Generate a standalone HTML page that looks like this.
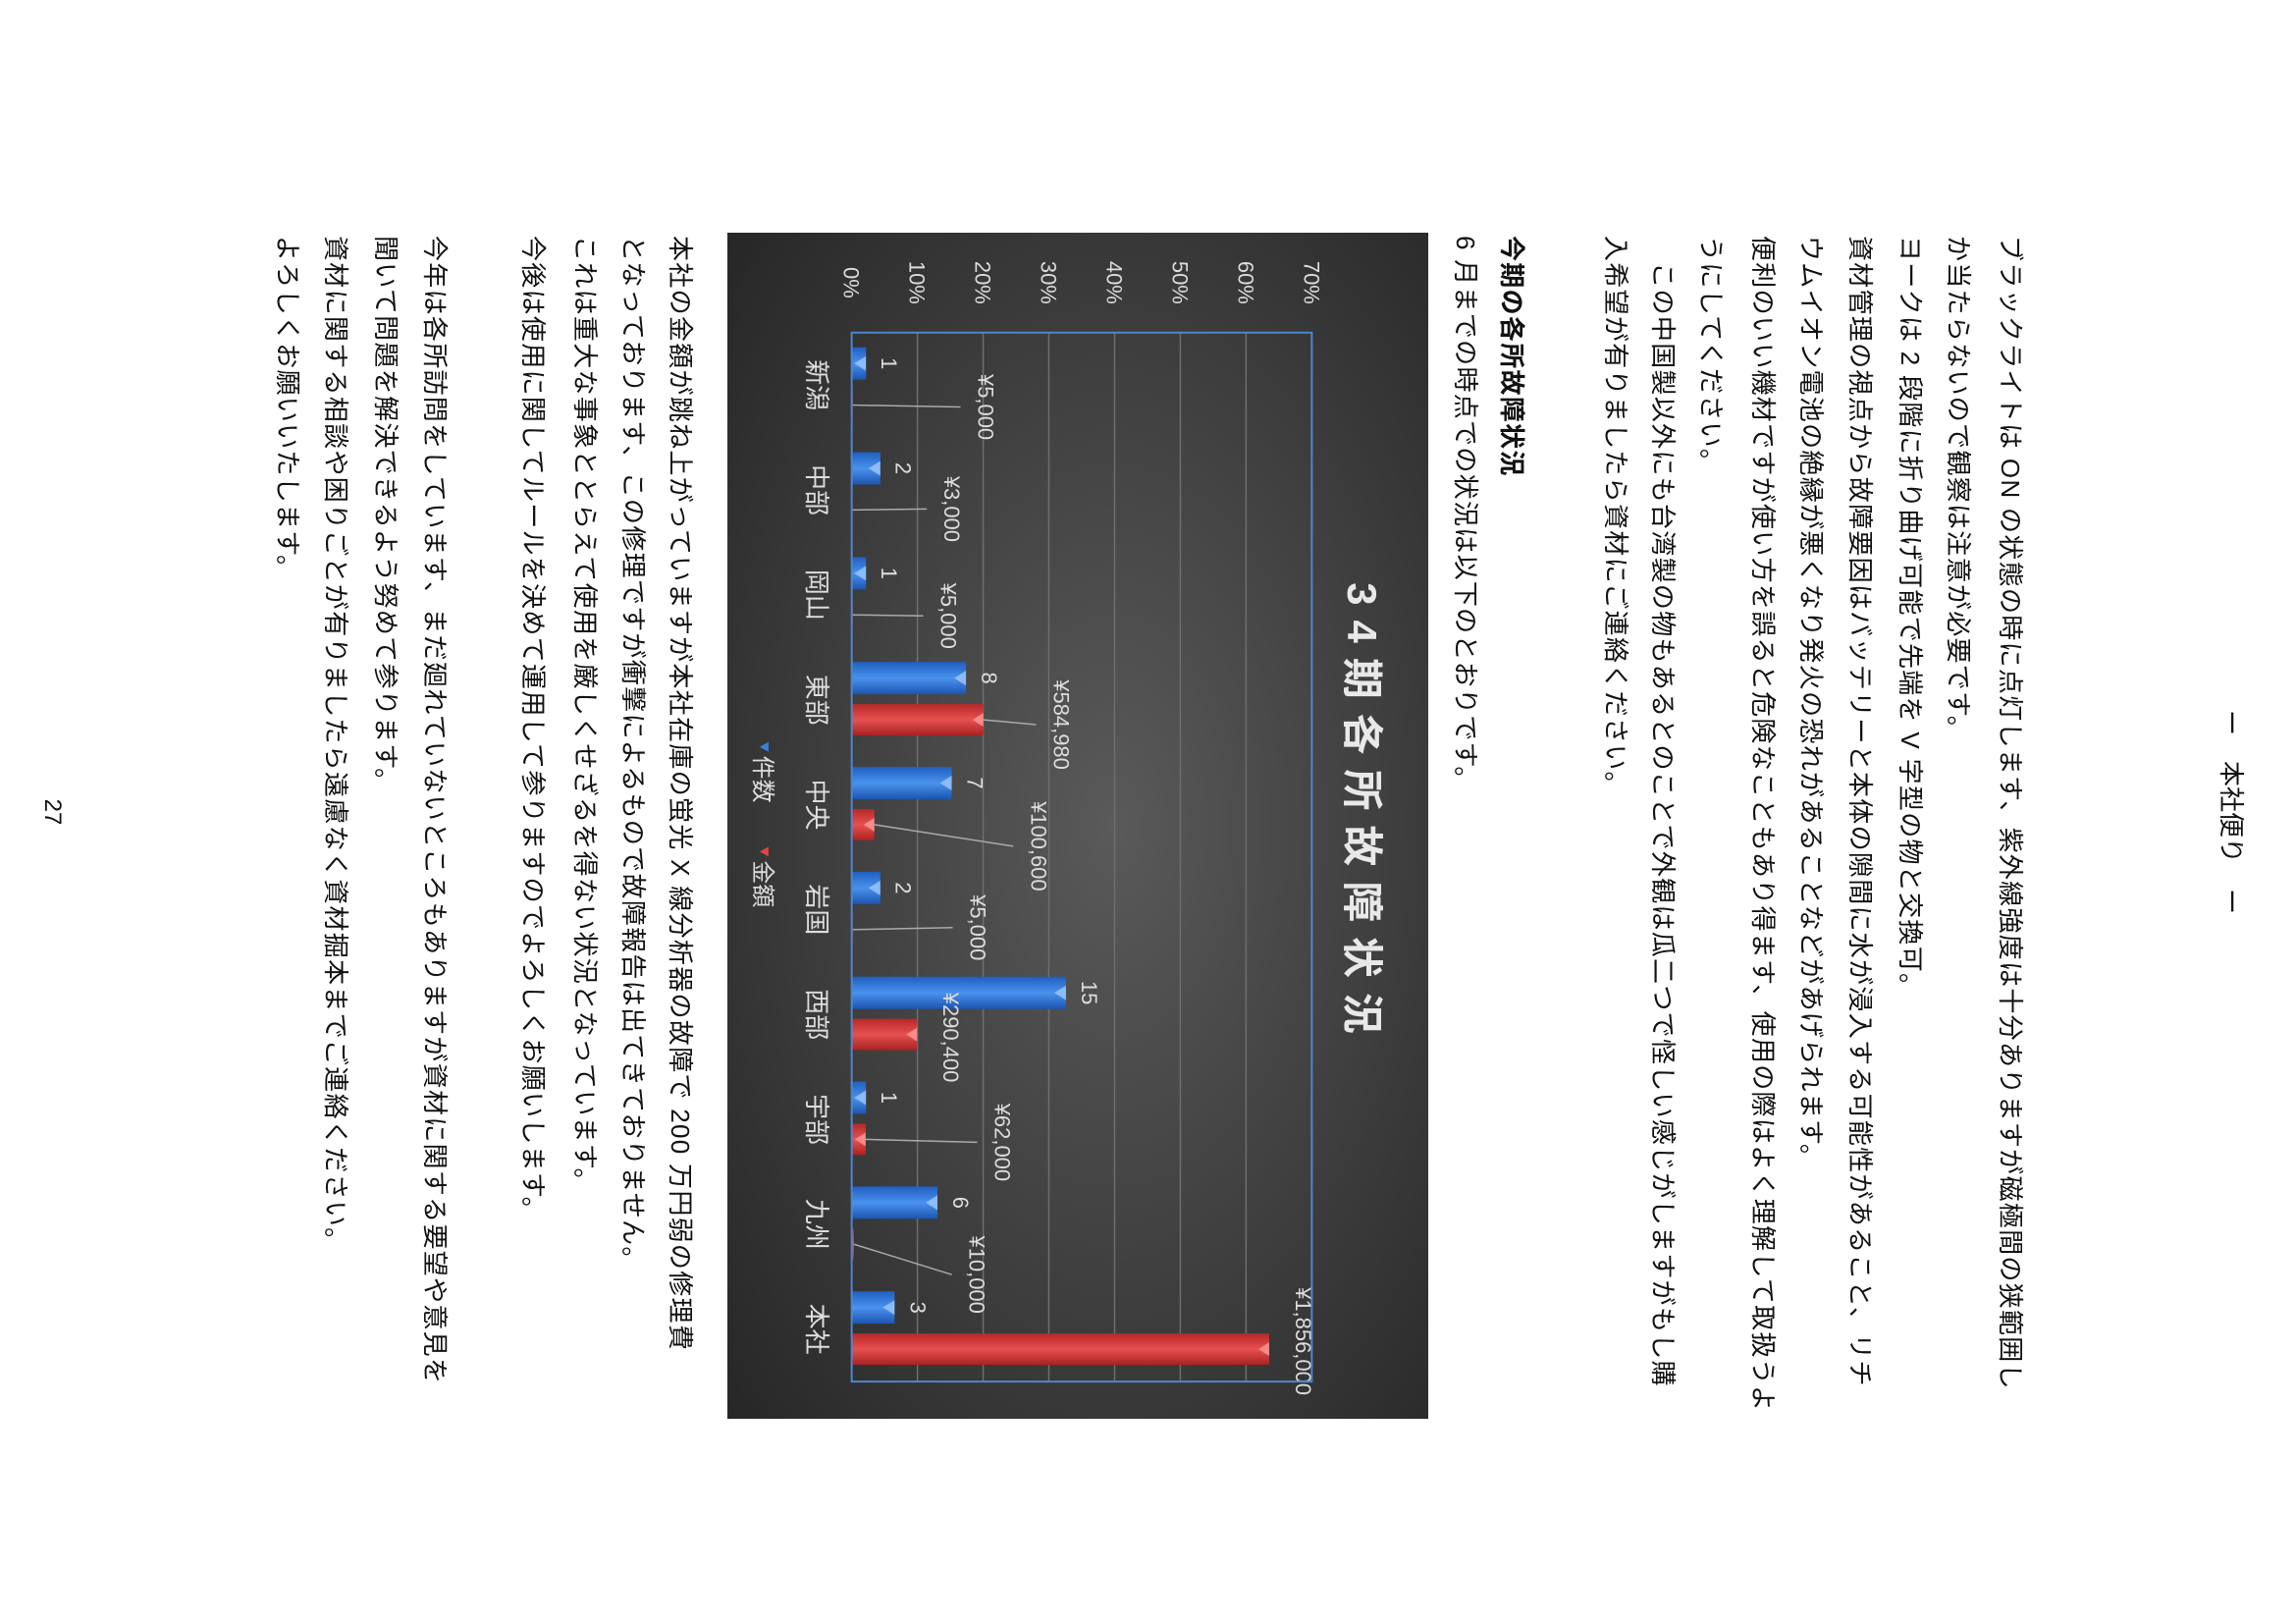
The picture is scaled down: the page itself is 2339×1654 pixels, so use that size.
<!DOCTYPE html>
<html><head><meta charset="utf-8">
<style>
html,body{margin:0;padding:0;background:#fff;}
body{width:2339px;height:1654px;overflow:hidden;position:relative;}
#page{position:absolute;left:0;top:0;width:1654px;height:2339px;transform-origin:0 0;transform:translateX(2339px) rotate(90deg);background:#fff;font-family:"Liberation Sans","Noto Sans CJK JP",sans-serif;color:#111;}
.ln{position:absolute;left:240px;height:50px;line-height:50px;font-size:26px;letter-spacing:1.3px;white-space:nowrap;}
.b{font-weight:bold;}
#hdr{position:absolute;left:0;width:1654px;text-align:center;top:46px;font-size:26px;line-height:40px;}
#pnum{position:absolute;left:0;width:1654px;text-align:center;top:2272px;font-size:24px;}
#chart{position:absolute;left:237px;top:884px;width:1208px;height:714px;}
</style></head>
<body>
<div id="page">
<div id="hdr">ー　本社便り　ー</div>
<div class="ln" style="top:266px">ブラックライトは ON の状態の時に点灯します、紫外線強度は十分ありますが磁極間の狭範囲し</div>
<div class="ln" style="top:319px">か当たらないので観察は注意が必要です。</div>
<div class="ln" style="top:368px">ヨークは 2 段階に折り曲げ可能で先端を V 字型の物と交換可。</div>
<div class="ln" style="top:419px">資材管理の視点から故障要因はバッテリーと本体の隙間に水が浸入する可能性があること、リチ</div>
<div class="ln" style="top:469px">ウムイオン電池の絶縁が悪くなり発火の恐れがあることなどがあげられます。</div>
<div class="ln" style="top:518px">便利のいい機材ですが使い方を誤ると危険なこともあり得ます、使用の際はよく理解して取扱うよ</div>
<div class="ln" style="top:571px">うにしてください。</div>
<div class="ln" style="top:620px">　この中国製以外にも台湾製の物もあるとのことで外観は瓜二つで怪しい感じがしますがもし購</div>
<div class="ln" style="top:668px">入希望が有りましたら資材にご連絡ください。</div>
<div class="ln b" style="top:774px">今期の各所故障状況</div>
<div class="ln" style="top:821px">6 月までの時点での状況は以下のとおりです。</div>

<svg id="chart" width="1208" height="714" viewBox="0 0 1211 716" preserveAspectRatio="none">
<defs>
<radialGradient id="bg" cx="50%" cy="45%" r="75%">
<stop offset="0" stop-color="#5a5a5a"/><stop offset="1" stop-color="#262626"/></radialGradient>
<linearGradient id="gb" x1="0" x2="1" y1="0" y2="0"><stop offset="0" stop-color="#1f5fc0"/><stop offset="0.5" stop-color="#4a92ee"/><stop offset="1" stop-color="#1c55b0"/></linearGradient>
<linearGradient id="gr" x1="0" x2="1" y1="0" y2="0"><stop offset="0" stop-color="#b82828"/><stop offset="0.5" stop-color="#e85050"/><stop offset="1" stop-color="#a82222"/></linearGradient>
</defs>
<rect x="0" y="0" width="1211" height="716" fill="url(#bg)"/>
<text x="595" y="82" fill="#e8e8e8" font-size="42" font-weight="bold" text-anchor="middle" letter-spacing="15" font-family="Liberation Sans, Noto Sans CJK JP, sans-serif">34期各所故障状況</text>
<g id="grid"></g>
<g id="bars"></g>
<g id="labels"></g>
<rect x="102" y="119" width="1071" height="470" fill="none" stroke="#4f86cc" stroke-width="2"/>
<g>
<path d="M520,674 l10,0 l-5,9 z" fill="#3a80e0"/>
<text x="534" y="688" fill="#ddd" font-size="24" font-family="Liberation Sans, Noto Sans CJK JP, sans-serif">件数</text>
<path d="M627,674 l10,0 l-5,9 z" fill="#e04444"/>
<text x="641" y="688" fill="#ddd" font-size="24" font-family="Liberation Sans, Noto Sans CJK JP, sans-serif">金額</text>
</g>
</svg>

<div class="ln" style="top:1621px">本社の金額が跳ね上がっていますが本社在庫の蛍光 X 線分析器の故障で 200 万円弱の修理費</div>
<div class="ln" style="top:1669px">となっております、この修理ですが衝撃によるもので故障報告は出てきておりません。</div>
<div class="ln" style="top:1718px">これは重大な事象ととらえて使用を厳しくせざるを得ない状況となっています。</div>
<div class="ln" style="top:1771px">今後は使用に関してルールを決めて運用して参りますのでよろしくお願いします。</div>
<div class="ln" style="top:1871px">今年は各所訪問をしています、まだ廻れていないところもありますが資材に関する要望や意見を</div>
<div class="ln" style="top:1921px">聞いて問題を解決できるよう努めて参ります。</div>
<div class="ln" style="top:1972px">資材に関する相談や困りごとが有りましたら遠慮なく資材掘本までご連絡ください。</div>
<div class="ln" style="top:2021px">よろしくお願いいたします。</div>
<div id="pnum">27</div>
</div>

<script>
const categories = ["新潟","中部","岡山","東部","中央","岩国","西部","宇部","九州","本社"];
const counts = [1,2,1,8,7,2,15,1,6,3];
const amounts = [5000,3000,5000,584980,100600,5000,290400,62000,10000,1856000];
const amountLabels = ["¥5,000","¥3,000","¥5,000","¥584,980","¥100,600","¥5,000","¥290,400","¥62,000","¥10,000","¥1,856,000"];
const tickPercents = [0,10,20,30,40,50,60,70];
const labelLift = [128,94,90,72,160,120,27,132,118,27];
const labelShift = [2,-1,1,5,22,-2,3,3,31,-8];

const NS="http://www.w3.org/2000/svg";
const PX0=102, PX1=1173, PY0=589, PYTOP=119, PMAX=70;
const band=(PX1-PX0)/categories.length;
function yScale(p){return PY0-(p/PMAX)*(PY0-PYTOP);}
function bandX(i){return PX0+i*band;}
function mk(tag,attrs,parent){const e=document.createElementNS(NS,tag);for(const k in attrs)e.setAttribute(k,attrs[k]);parent.appendChild(e);return e;}
const F="Liberation Sans, Noto Sans CJK JP, sans-serif";
const grid=document.getElementById('grid'),bars=document.getElementById('bars'),labels=document.getElementById('labels');
tickPercents.forEach(t=>{
  const y=yScale(t);
  if(t>0){const l=mk('line',{x1:PX0,x2:PX1,y1:y,y2:y,stroke:'#6e6e6e','stroke-width':1.5},grid);
  
  }
  const tx=mk('text',{x:51,y:y+8,fill:'#ddd','font-size':22,'text-anchor':'middle','font-family':F},grid);
  tx.textContent=t+'%';
  
  
});
const cTot=counts.reduce((a,b)=>a+b,0), aTot=amounts.reduce((a,b)=>a+b,0);
categories.forEach((c,i)=>{
  const x0=bandX(i);
  const cp=counts[i]/cTot*100, ap=amounts[i]/aTot*100;
  const yb=yScale(cp), yr=yScale(ap);
  const b=mk('rect',{x:x0+15,y:yb,width:33,height:PY0-yb,fill:'url(#gb)'},bars);
  
  
  mk('path',{d:`M${x0+24},${yb} l15,0 l-7.5,12 z`,fill:'#9cc8ff',opacity:0.8},bars);
  const r=mk('rect',{x:x0+58,y:yr,width:32,height:Math.max(1,PY0-yr),fill:'url(#gr)'},bars);
  
  
  if(PY0-yr>10) mk('path',{d:`M${x0+67},${yr} l14,0 l-7,11 z`,fill:'#ff9a9a',opacity:0.8},bars);
  const cl=mk('text',{x:x0+31.5,y:yb-16,fill:'#ddd','font-size':22,'text-anchor':'middle','font-family':F},labels);
  cl.textContent=counts[i];
  
  
  const ax=x0+74+labelShift[i], ay=yr-labelLift[i];
  if(labelLift[i]>40){
    const ln=mk('line',{x1:x0+74,y1:yr,x2:ax,y2:ay+18,stroke:'#aaa','stroke-width':1.5},labels);
    
    
  }
  const al=mk('text',{x:ax,y:ay,fill:'#ddd','font-size':22,'text-anchor':'middle','font-family':F},labels);
  al.textContent=amountLabels[i];
  
  
  const cat=mk('text',{x:x0+band/2,y:634,fill:'#ddd','font-size':26,'text-anchor':'middle','font-family':F},labels);
  cat.textContent=c;
  
  
});
</script>
</body></html>
